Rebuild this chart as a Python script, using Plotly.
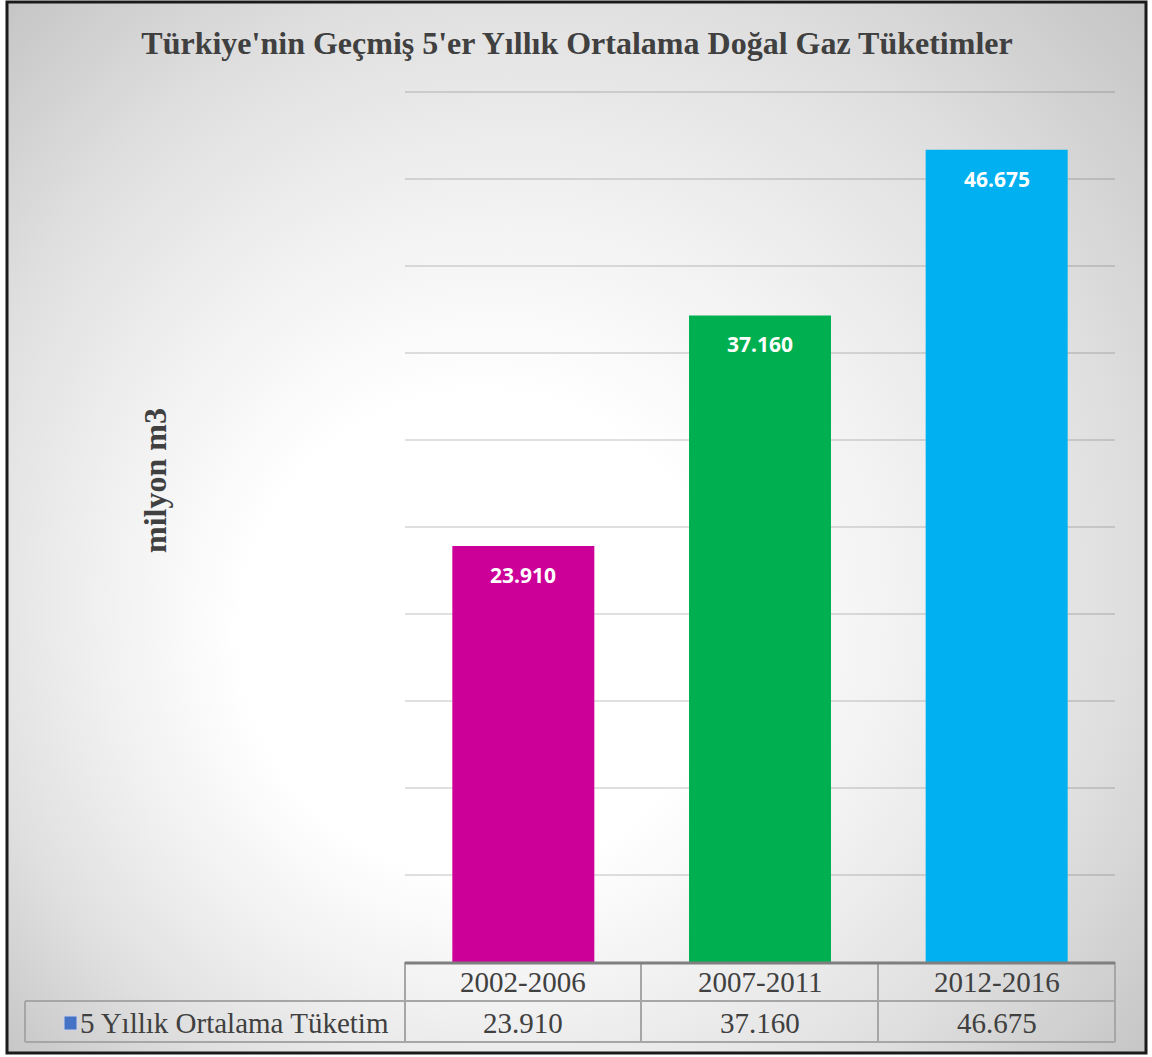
import base64
import plotly.graph_objects as go

# ---- data ----
categories = ["2002-2006", "2007-2011", "2012-2016"]
values = [23910, 37160, 46675]
bar_colors = ["#CC0099", "#00B050", "#00B0F0"]
series_name = "5 Yıllık Ortalama Tüketim"
title_text = "Türkiye'nin Geçmiş 5'er Yıllık Ortalama Doğal Gaz Tüketimler"
y_title = "milyon m3"
y_max_tick = 50000
y_step = 5000

W, H = 1152, 1057
L, R, B = 405, 1115, 962          # plot area edges in px
Y_MAX = y_max_tick * 880 / 870     # a little headroom so the top gridline is drawn
T = B - 880                        # plot area top in px


def fmt(v):
    return f"{v:,}".replace(",", ".")


def px(x):
    return (x - L) / (R - L)


def py(y):
    return (B - y) / (B - T)


# background gradient (svg data uri)
svg = f'''<svg xmlns="http://www.w3.org/2000/svg" width="{W}" height="{H}" viewBox="0 0 {W} {H}">
<defs><radialGradient id="g" gradientUnits="userSpaceOnUse" cx="576" cy="528" r="800" fx="440" fy="680">
<stop offset="0" stop-color="#ffffff"/><stop offset="0.3" stop-color="#ffffff"/>
<stop offset="0.52" stop-color="#f0f0f0"/><stop offset="0.72" stop-color="#e0e0e0"/>
<stop offset="1" stop-color="#c2c2c2"/></radialGradient></defs>
<rect x="0" y="0" width="{W}" height="{H}" fill="#ffffff"/>
<rect x="7" y="2" width="1140" height="1052" fill="url(#g)"/></svg>'''
src = "data:image/svg+xml;base64," + base64.b64encode(svg.encode()).decode()

fig = go.Figure()
fig.add_trace(go.Bar(
    x=categories, y=values, marker=dict(color=bar_colors, line=dict(width=0)),
    name=series_name, showlegend=False, hoverinfo="skip",
))

shapes = []
line_c = "#a6a6a6"


def hline(x0, x1, y, c=line_c, w=2):
    shapes.append(dict(type="line", xref="paper", yref="paper", x0=px(x0), x1=px(x1), y0=py(y), y1=py(y),
                       line=dict(color=c, width=w)))


def vline(x, y0, y1, c=line_c, w=2):
    shapes.append(dict(type="line", xref="paper", yref="paper", x0=px(x), x1=px(x), y0=py(y0), y1=py(y1),
                       line=dict(color=c, width=w)))


# border
shapes.append(dict(type="rect", xref="paper", yref="paper", x0=px(7), x1=px(1146), y0=py(2), y1=py(1053),
                   line=dict(color="#1a1a1a", width=3), layer="above"))
# data table lines
hline(25, 1115, 1001)
hline(25, 1115, 1042)
vline(25, 1001, 1042)
for xx in [405, 641, 878, 1115]:
    vline(xx, 962, 1042)
# category axis line
hline(405, 1115, 963, "#7f7f7f", 3)
# legend key
shapes.append(dict(type="rect", xref="paper", yref="paper", x0=px(64), x1=px(77), y0=py(1030), y1=py(1016),
                   fillcolor="#4472C4", line=dict(color="#c9d3ea", width=1)))

ann = []
tf = dict(family="Liberation Serif", size=29, color="#404040")
ann.append(dict(text=f"<b>{y_title}</b>", xref="paper", yref="paper", x=px(155), y=py(481), showarrow=False,
                textangle=-90, font=dict(family="Liberation Serif", size=32, color="#404040"),
                xanchor="center", yanchor="middle"))
for c, v in zip(categories, values):
    ann.append(dict(text=f"<b>{fmt(v)}</b>", x=c, y=v, xref="x", yref="y", yshift=-29, showarrow=False,
                    font=dict(family="Open Sans", size=21, color="white"), xanchor="center", yanchor="middle"))
    ann.append(dict(text=c, x=c, xref="x", yref="paper", y=py(982), showarrow=False,
                    font=tf, xanchor="center", yanchor="middle"))
    ann.append(dict(text=fmt(v), x=c, xref="x", yref="paper", y=py(1023), showarrow=False,
                    font=tf, xanchor="center", yanchor="middle"))
ann.append(dict(text=series_name, xref="paper", yref="paper", x=px(78), y=py(1023), showarrow=False,
                font=tf, xanchor="left", yanchor="middle"))

fig.update_layout(
    width=W, height=H,
    margin=dict(l=L, r=W - R, t=T, b=H - B, pad=0),
    paper_bgcolor="white", plot_bgcolor="rgba(0,0,0,0)",
    separators=",.",
    bargap=0.4,
    title=dict(text=f"<b>{title_text}</b>", x=577 / W, xanchor="center", y=1 - 43 / H, yanchor="middle",
               font=dict(family="Liberation Serif", size=32, color="#404040")),
    xaxis=dict(showticklabels=False, ticks="", showgrid=False, zeroline=False, showline=False, fixedrange=True),
    yaxis=dict(range=[0, Y_MAX], tick0=0, dtick=y_step, showticklabels=False, ticks="", showgrid=True,
               gridcolor="rgba(0,0,0,0.12)", gridwidth=2, zeroline=False, showline=False, fixedrange=True),
    shapes=shapes, annotations=ann,
    images=[dict(source=src, xref="paper", yref="paper", x=px(0), y=py(0), sizex=W / (R - L), sizey=H / (B - T),
                 xanchor="left", yanchor="top", sizing="stretch", layer="below")],
)

fig.write_html("out.html", config={"displayModeBar": False, "staticPlot": True},
               post_script="document.body.style.margin='0';")
